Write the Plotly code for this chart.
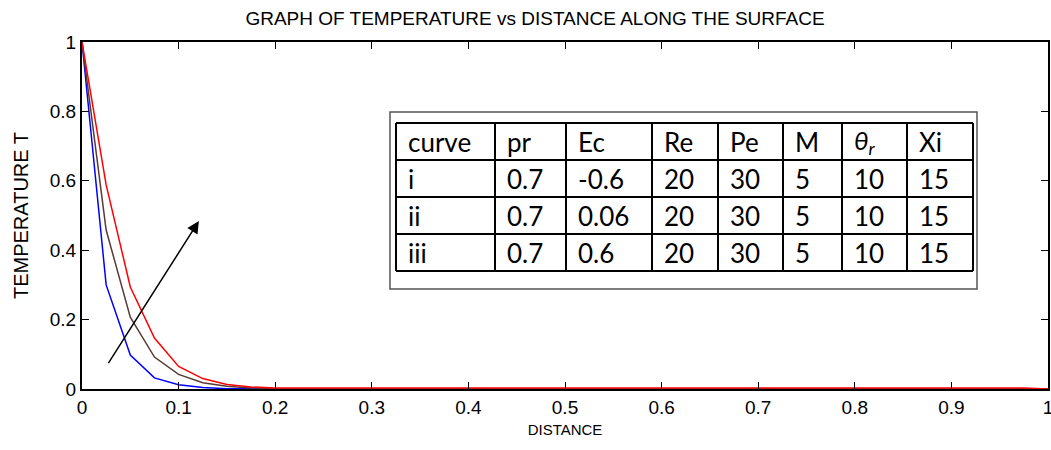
import plotly.graph_objects as go

# ---------------- data ----------------
distance = [round(i * 0.025, 3) for i in range(41)]

temp_i = [1.0, 0.300, 0.098, 0.032, 0.012, 0.004, 0.001, 0.0, 0.0, 0.0,
          0.0, 0.0, 0.0, 0.0, 0.0, 0.0, 0.0, 0.0, 0.0, 0.0,
          0.0, 0.0, 0.0, 0.0, 0.0, 0.0, 0.0, 0.0, 0.0, 0.0,
          0.0, 0.0, 0.0, 0.0, 0.0, 0.0, 0.0, 0.0, 0.0, 0.0, 0.0]
temp_ii = [1.0, 0.458, 0.207, 0.092, 0.042, 0.018, 0.008, 0.003, 0.001, 0.001,
           0.001, 0.001, 0.001, 0.001, 0.001, 0.001, 0.001, 0.001, 0.001, 0.001,
           0.001, 0.001, 0.001, 0.001, 0.001, 0.001, 0.001, 0.001, 0.001, 0.001,
           0.001, 0.001, 0.001, 0.001, 0.001, 0.001, 0.001, 0.001, 0.001, 0.001, 0.0]
temp_iii = [1.0, 0.588, 0.294, 0.147, 0.065, 0.030, 0.013, 0.006, 0.003, 0.003,
            0.003, 0.003, 0.003, 0.003, 0.003, 0.003, 0.003, 0.003, 0.003, 0.003,
            0.003, 0.003, 0.003, 0.003, 0.003, 0.003, 0.003, 0.003, 0.003, 0.003,
            0.003, 0.003, 0.003, 0.003, 0.003, 0.003, 0.003, 0.003, 0.003, 0.003, 0.0]

x_ticks = [0, 0.1, 0.2, 0.3, 0.4, 0.5, 0.6, 0.7, 0.8, 0.9, 1]
y_ticks = [0, 0.2, 0.4, 0.6, 0.8, 1]

table_header = ["curve", "pr", "Ec", "Re", "Pe", "M", "<i>θ<sub>r</sub></i>", "Xi"]
table_rows = [
    ["i", "0.7", "-0.6", "20", "30", "5", "10", "15"],
    ["ii", "0.7", "0.06", "20", "30", "5", "10", "15"],
    ["iii", "0.7", "0.6", "20", "30", "5", "10", "15"],
]

# arrow (data coords): tail -> head
arrow_tail = (0.026, 0.069)
arrow_head = (0.121, 0.484)

# ---------------- layout geometry (pixels) ----------------
W, H = 1051, 450
L, R, T, B = 82, 1048, 42, 389


def px(xp):
    return (xp - L) / (R - L)


def py(yp):
    return (B - yp) / (B - T)


col_edges = [396, 495, 566, 652, 718, 783, 842, 907, 973]
row_edges = [123, 160, 197, 234, 271]
outer_box = (390, 112, 977, 289)

fig = go.Figure()
fig.add_trace(go.Scatter(x=distance, y=temp_i, mode="lines",
                         line=dict(color="#0000ff", width=1.5), name="i"))
fig.add_trace(go.Scatter(x=distance, y=temp_ii, mode="lines",
                         line=dict(color="#5a3a33", width=1.5), name="ii"))
fig.add_trace(go.Scatter(x=distance, y=temp_iii, mode="lines",
                         line=dict(color="#ff0000", width=1.5), name="iii"))

FAM = "Liberation Sans, Arial, sans-serif"
axis_font = dict(family=FAM, size=19, color="black")

fig.update_layout(
    width=W, height=H,
    margin=dict(l=L, r=W - R, t=T, b=H - B, autoexpand=False),
    paper_bgcolor="white", plot_bgcolor="white",
    showlegend=False,
    title=dict(text="GRAPH OF TEMPERATURE vs DISTANCE ALONG THE SURFACE",
               x=535 / W, xanchor="center", xref="container",
               y=1 - 18 / H, yanchor="middle", yref="container",
               font=dict(family=FAM, size=19, color="black")),
)
fig.update_xaxes(range=[0, 1], tickvals=x_ticks, ticks="inside", ticklen=7, tickwidth=1,
                 tickcolor="black", showline=True, linecolor="black", linewidth=2,
                 mirror="ticks", showgrid=False, zeroline=False, tickfont=axis_font,
                 automargin=False, ticklabeloverflow="allow",
                 title=dict(text="DISTANCE", font=dict(family=FAM, size=15, color="black"),
                            standoff=8))
fig.update_yaxes(range=[0, 1], tickvals=y_ticks, ticks="inside", ticklen=7, tickwidth=1,
                 tickcolor="black", showline=True, linecolor="black", linewidth=2,
                 mirror="ticks", showgrid=False, zeroline=False, tickfont=axis_font,
                 automargin=False, ticklabeloverflow="allow",
                 title=dict(text="TEMPERATURE T", font=dict(family=FAM, size=20, color="black"),
                            standoff=16))

shapes = []
# outer legend box
shapes.append(dict(type="rect", xref="paper", yref="paper",
                   x0=px(outer_box[0]), x1=px(outer_box[2]),
                   y0=py(outer_box[3]), y1=py(outer_box[1]),
                   line=dict(color="#555555", width=1.5), fillcolor="white", layer="above"))
# table grid
for xe in col_edges:
    shapes.append(dict(type="line", xref="paper", yref="paper",
                       x0=px(xe), x1=px(xe), y0=py(row_edges[-1]), y1=py(row_edges[0]),
                       line=dict(color="black", width=2), layer="above"))
for ye in row_edges:
    shapes.append(dict(type="line", xref="paper", yref="paper",
                       x0=px(col_edges[0]), x1=px(col_edges[-1]), y0=py(ye), y1=py(ye),
                       line=dict(color="black", width=2), layer="above"))
fig.update_layout(shapes=shapes)

table_font = dict(family="Lato, Open Sans, sans-serif", size=26, color="black")
annotations = []
all_rows = [table_header] + table_rows
for r, row in enumerate(all_rows):
    yc = (row_edges[r] + row_edges[r + 1]) / 2
    for c, txt in enumerate(row):
        annotations.append(dict(text=txt, xref="paper", yref="paper",
                                x=px(col_edges[c] + 10), y=py(yc),
                                xanchor="left", yanchor="middle", showarrow=False,
                                font=table_font))

annotations.append(dict(x=arrow_head[0], y=arrow_head[1], xref="x", yref="y",
                        ax=arrow_tail[0], ay=arrow_tail[1], axref="x", ayref="y",
                        showarrow=True, arrowhead=2, arrowsize=1.6, arrowwidth=1.5,
                        arrowcolor="black", text=" ", font=dict(size=1)))
fig.update_layout(annotations=annotations)

fig.write_html("out.html", config={"displayModeBar": False},
               post_script="document.body.style.margin='0';document.body.style.overflow='hidden';")
